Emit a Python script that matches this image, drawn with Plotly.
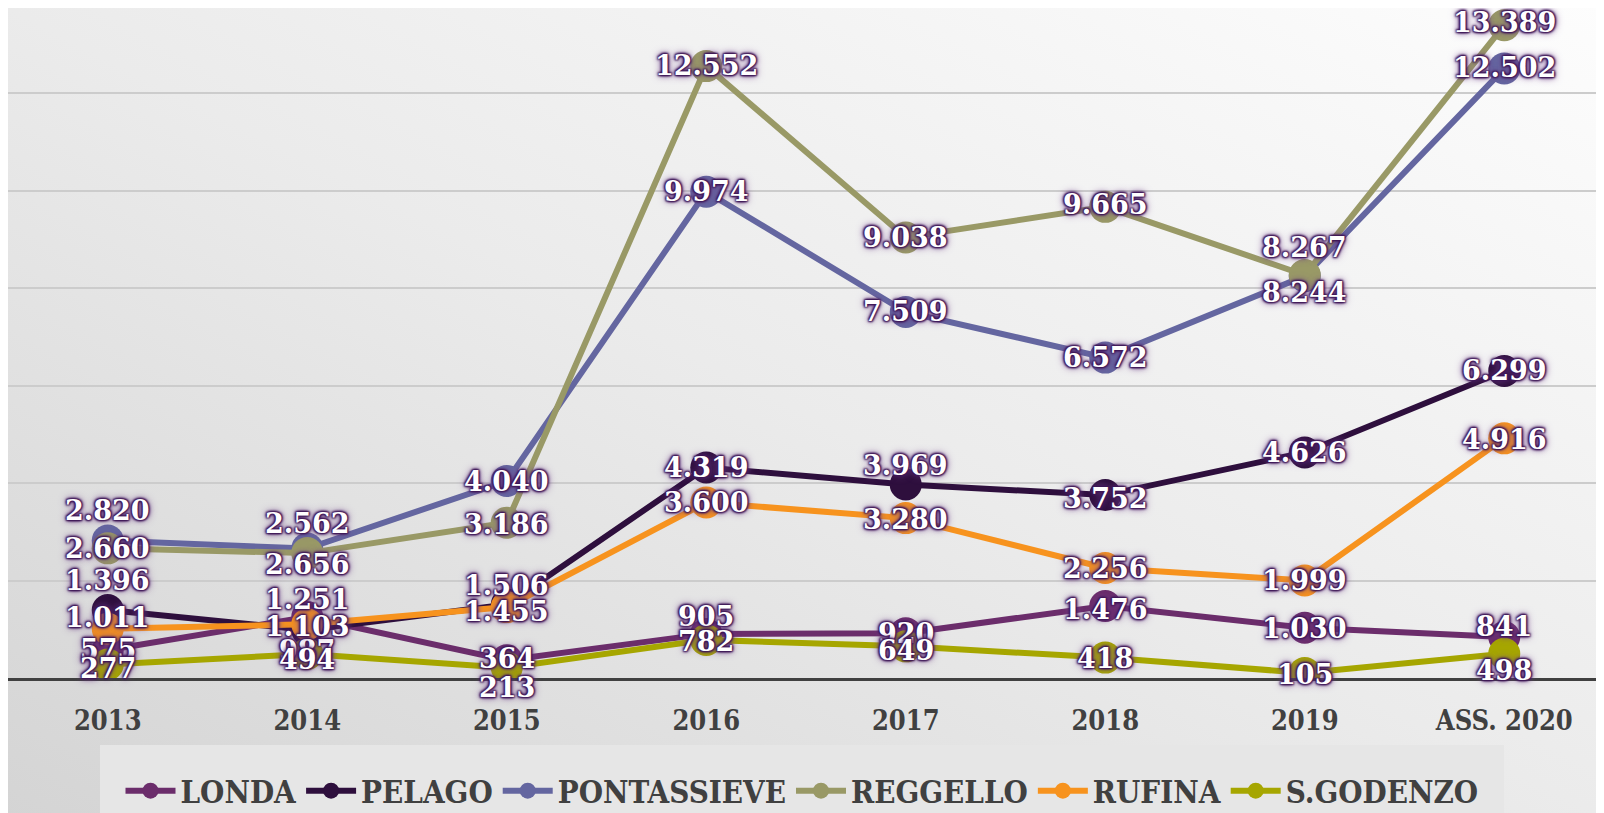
import base64
import plotly.graph_objects as go

# ---- data ----
years = ["2013", "2014", "2015", "2016", "2017", "2018", "2019", "ASS. 2020"]
series_names = ["LONDA", "PELAGO", "PONTASSIEVE", "REGGELLO", "RUFINA", "S.GODENZO"]
londa = [575, 1251, 364, 905, 920, 1476, 1030, 841]
pelago = [1396, 987, 1506, 4319, 3969, 3752, 4626, 6299]
pontassieve = [2820, 2656, 4040, 9974, 7509, 6572, 8244, 12502]
reggello = [2660, 2562, 3186, 12552, 9038, 9665, 8267, 13389]
rufina = [1011, 1103, 1455, 3600, 3280, 2256, 1999, 4916]
sgodenzo = [277, 494, 213, 782, 649, 418, 105, 498]
values = [londa, pelago, pontassieve, reggello, rufina, sgodenzo]

# ---- styles ----
colors = ["#6B2D6B", "#2E0F3D", "#6466A0", "#999966", "#F7931E", "#A6A600"]
# vertical label offsets in px (style, per point)
label_shift = [
    [0, 18, 2, 17, 0, -3, -1, 11],
    [29, -21, 19, 0, 19, -3, 0, 0],
    [30, -16, 0, 0, 0, 0, -16, 1],
    [0, 30, -2, 1, 0, 2, 28, 3],
    [11, -2, -4, 0, -1, 0, 0, -1],
    [-4, -6, -20, -2, -4, -1, -2, -17],
]

W, H = 1604, 813
PLOT_W = 1596
PLOT_BOTTOM = 670
Y_TOP = 13744

svg = f'''<svg xmlns="http://www.w3.org/2000/svg" width="{W}" height="{H}" viewBox="0 0 {W} {H}" preserveAspectRatio="none">
<defs><linearGradient id="g" x1="1" y1="0" x2="0" y2="1">
<stop offset="0" stop-color="#fdfdfd"/><stop offset="0.5" stop-color="#ebebeb"/><stop offset="1" stop-color="#d4d4d4"/>
</linearGradient></defs><rect width="{W}" height="{H}" fill="url(#g)"/></svg>'''
bg_uri = "data:image/svg+xml;base64," + base64.b64encode(svg.encode()).decode()


def fmt(v):
    return f"{v:,}".replace(",", ".")


fig = go.Figure()
for name, vals, col in zip(series_names, values, colors):
    fig.add_trace(go.Scatter(
        x=years, y=vals, name=name, mode="lines+markers",
        line=dict(color=col, width=6),
        marker=dict(color=col, size=32),
        hoverinfo="skip",
    ))

label_font = dict(
    family="DejaVu Serif", size=27, color="white", weight="bold",
    shadow=("1px 1px 2px #3d1656, -1px -1px 2px #3d1656, 1px -1px 2px #3d1656, "
            "-1px 1px 2px #3d1656, 0px 0px 5px #5a2c75, 0px 0px 8px #7a4c95"),
)
for vals, shifts in zip(values, label_shift):
    for i, (v, s) in enumerate(zip(vals, shifts)):
        fig.add_annotation(x=i, y=v, xref="x", yref="y", text=fmt(v), showarrow=False,
                           yshift=s, font=label_font, xanchor="center", yanchor="middle")

axis_font = dict(family="DejaVu Serif Condensed", size=27, color="#404040", weight="bold")
legend_font = dict(family="DejaVu Serif Condensed", size=31, color="#404040", weight="bold")

fig.update_layout(
    width=W, height=H,
    margin=dict(l=0, r=W - PLOT_W, t=0, b=H - PLOT_BOTTOM, autoexpand=False),
    paper_bgcolor="#e8e8e8",
    plot_bgcolor="rgba(0,0,0,0)",
    images=[dict(source=bg_uri, xref="paper", yref="paper", x=0, y=1,
                 sizex=W / PLOT_W, sizey=H / PLOT_BOTTOM, xanchor="left", yanchor="top",
                 sizing="stretch", layer="below")],
    shapes=[dict(type="rect", xref="paper", yref="paper",
                 x0=92 / PLOT_W, x1=1496 / PLOT_W,
                 y0=(PLOT_BOTTOM - 737) / PLOT_BOTTOM, y1=(PLOT_BOTTOM - 830) / PLOT_BOTTOM,
                 fillcolor="#e6e6e6", line=dict(width=0), layer="below")],
    xaxis=dict(type="category", range=[-0.5, 7.5], showgrid=False,
               showline=True, linecolor="#404040", linewidth=3,
               ticks="outside", ticklen=17, tickcolor="rgba(0,0,0,0)",
               tickfont=axis_font, fixedrange=True),
    yaxis=dict(range=[0, Y_TOP], dtick=2000, showticklabels=False,
               showgrid=True, gridcolor="#cccccc", gridwidth=2,
               zeroline=False, fixedrange=True),
    legend=dict(orientation="h", x=(92 + 1496) / 2 / PLOT_W, xanchor="center",
                y=(PLOT_BOTTOM - 783) / PLOT_BOTTOM, yanchor="middle",
                bgcolor="rgba(0,0,0,0)", font=legend_font,
                itemwidth=50, tracegroupgap=0),
    showlegend=True,
)

fig.write_html("out.html")
